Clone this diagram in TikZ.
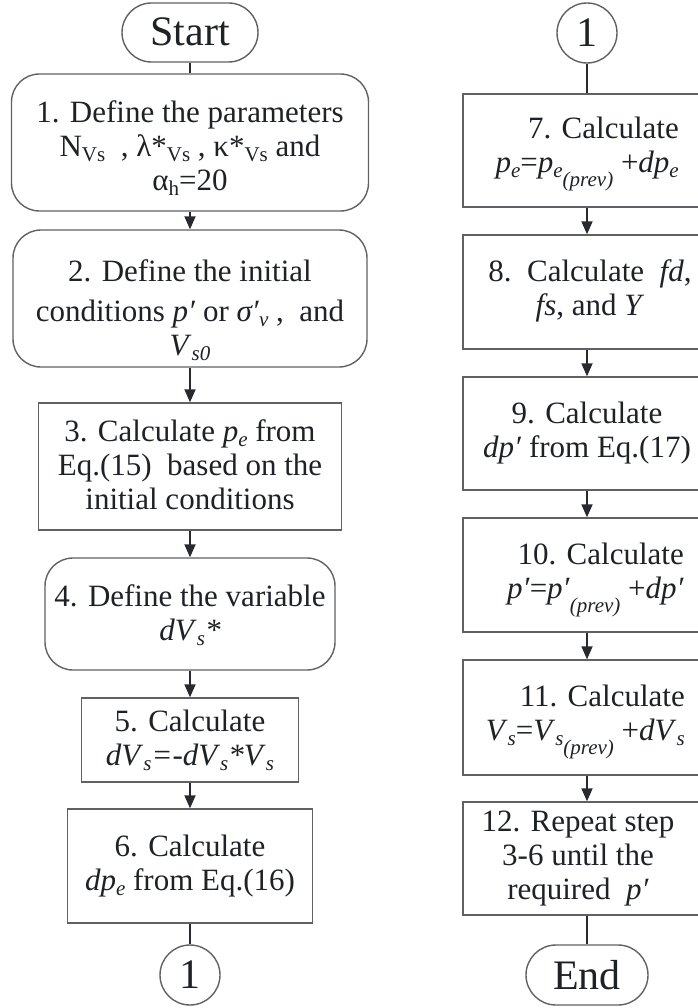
\documentclass[tikz,border=0pt]{standalone}
\usepackage{fontspec}
\setmainfont{Liberation Serif}
\usetikzlibrary{arrows.meta,shapes.misc}
\definecolor{txt}{RGB}{30,33,38}
\definecolor{bord}{RGB}{95,97,100}
\definecolor{arr}{RGB}{40,42,48}
\newcommand\sbs[1]{\raisebox{-0.16em}{\fontsize{21pt}{21pt}\selectfont #1}}
\newcommand\lowsb[1]{\raisebox{-0.45em}{\fontsize{21pt}{21pt}\selectfont #1}}
\newcommand\itx[1]{\textit{#1}}
\tikzset{
  shapeline/.style={draw=bord, line width=1.4pt},
  term/.style={shapeline, rounded rectangle, minimum height=59pt, inner sep=0pt},
  rbox/.style={shapeline, rectangle, rounded corners=28pt, inner sep=0pt},
  sbox/.style={shapeline, rectangle, inner sep=0pt},
  conn/.style={shapeline, circle, minimum size=60pt, inner sep=0pt},
  lbl/.style={text=txt, font=\fontsize{31pt}{34pt}\selectfont, align=center, inner sep=0pt},
  big/.style={text=txt, font=\fontsize{42pt}{42pt}\selectfont, inner sep=0pt},
  flow/.style={draw=arr, line width=1.8pt, -{Triangle[length=13pt,width=11pt]}},
  link/.style={draw=arr, line width=1.8pt},
}
\begin{document}
\begin{tikzpicture}[x=1pt,y=-1pt]
\useasboundingbox (0,0) rectangle (697,1008);
% ---------------- left column ----------------
\node[term, minimum width=136pt] (start) at (190,32.5) {};
\node[big] (tstart) at (190,32) {Start};
\node[rbox, minimum width=357pt, minimum height=137pt] (b1) at (190,142.5) {};
\node[lbl] (t1) at (190,148) {1. Define the parameters\\
  N\sbs{Vs}\ \ , λ*\sbs{Vs} , κ*\sbs{Vs} and\\
  α\sbs{h}=20};
\node[rbox, minimum width=354pt, minimum height=137pt] (b2) at (190,298.5) {};
\node[lbl, font=\fontsize{31pt}{40pt}\selectfont] (t2) at (190,310) {2. Define the initial\\
  conditions \itx{p′} or \itx{σ′}\sbs{\itx{v}} ,\ \ and\\[-6pt]
  \itx{V}\sbs{\itx{s0}}};
\node[sbox, minimum width=303pt, minimum height=127pt] (b3) at (190,466.5) {};
\node[lbl] (t3) at (190,465) {3. Calculate \itx{p}\sbs{\itx{e}} from\\
  Eq.(15)\ \ based on the\\ initial conditions};
\node[rbox, minimum width=290pt, minimum height=112pt] (b4) at (190,614) {};
\node[lbl] (t4) at (190,615) {4. Define the variable\\ \itx{dV}\sbs{\itx{s}}\itx{*}};
\node[sbox, minimum width=217pt, minimum height=84pt] (b5) at (190,740) {};
\node[lbl] (t5) at (190,740) {5. Calculate\\
  \itx{dV}\sbs{\itx{s}}\itx{=-dV}\sbs{\itx{s}}\itx{*V}\sbs{\itx{s}}};
\node[sbox, minimum width=245pt, minimum height=114pt] (b6) at (190,866) {};
\node[lbl] (t6) at (190,866) {6. Calculate\\ \itx{dp}\sbs{\itx{e}} from Eq.(16)};
\node[conn] (c1) at (190,975) {};
\node[big] (tc1) at (190,975) {1};
\draw[link] (start) -- (b1);
\draw[flow] (b1) -- (b2);
\draw[flow] (b2) -- (b3);
\draw[flow] (b3) -- (b4);
\draw[flow] (b4) -- (b5);
\draw[flow] (b5) -- (b6);
\draw[link] (b6) -- (c1);
% ---------------- right column ----------------
\node[conn] (c2) at (587,33) {};
\node[big] (tc2) at (587,33) {1};
\node[sbox, minimum width=248pt, minimum height=113pt] (b7) at (587,150.5) {};
\node[lbl, align=right, anchor=east] (t7) at (679,154) {7. Calculate\\
  \itx{p}\sbs{\itx{e}}=\itx{p}\sbs{\itx{e}\raisebox{-0.45em}{\itx{(prev)}}} +\itx{dp}\sbs{\itx{e}}};
\node[sbox, minimum width=248pt, minimum height=114pt] (b8) at (587,292) {};
\node[lbl] (t8) at (590,291) {8.\ \ Calculate\ \ \itx{fd},\\ \itx{fs}, and \itx{Y}};
\node[sbox, minimum width=248pt, minimum height=113pt] (b9) at (587,433.5) {};
\node[lbl] (t9) at (587,433) {9. Calculate\\ \itx{dp′} from Eq.(17)};
\node[sbox, minimum width=248pt, minimum height=114pt] (b10) at (587,575) {};
\node[lbl, align=right, anchor=east] (t10) at (684,580) {10. Calculate\\
  \itx{p′}=\itx{p′}\lowsb{\itx{(prev)}} +\itx{dp′}};
\node[sbox, minimum width=248pt, minimum height=115pt] (b11) at (587,717.5) {};
\node[lbl, align=right, anchor=east] (t11) at (685,722) {11. Calculate\\
  \itx{V}\sbs{\itx{s}}=\itx{V}\sbs{\itx{s}\raisebox{-0.45em}{\itx{(prev)}}} +\itx{dV}\sbs{\itx{s}}};
\node[sbox, minimum width=248pt, minimum height=113pt] (b12) at (587,858.5) {};
\node[lbl] (t12) at (578,859) {12. Repeat step\\ 3-6 until the\\ required\ \ \itx{p′}};
\node[term, minimum width=122pt, minimum height=60pt] (end) at (587,975) {};
\node[big] (tend) at (587,975) {End};
\draw[link] (c2) -- (b7);
\draw[flow] (b7) -- (b8);
\draw[flow] (b8) -- (b9);
\draw[flow] (b9) -- (b10);
\draw[flow] (b10) -- (b11);
\draw[flow] (b11) -- (b12);
\draw[link] (b12) -- (end);
\end{tikzpicture}
\end{document}
